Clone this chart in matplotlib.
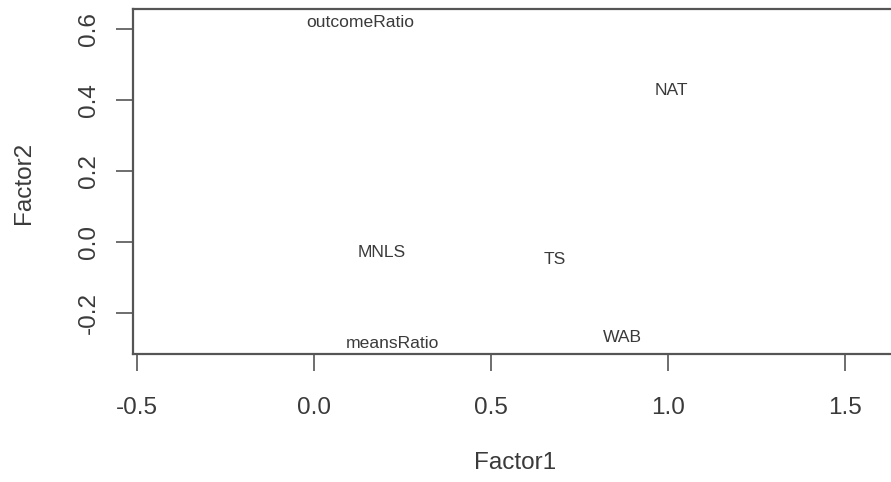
import matplotlib
matplotlib.use("Agg")
import matplotlib.pyplot as plt

# factor loadings
labels = ["outcomeRatio", "NAT", "MNLS", "TS", "meansRatio", "WAB"]
factor1 = [0.130, 1.011, 0.192, 0.681, 0.223, 0.873]
factor2 = [0.617, 0.428, -0.028, -0.048, -0.285, -0.268]

x_ticks = [-0.5, 0.0, 0.5, 1.0, 1.5]
y_ticks = [-0.2, 0.0, 0.2, 0.4, 0.6]

TEXT = "#3a3a3a"
LINE = "#555555"

plt.rcParams["font.family"] = ["Liberation Sans", "DejaVu Sans"]

W, H = 891, 482
fig = plt.figure(figsize=(W / 100, H / 100), dpi=100)
left, right, top, bottom = 133, 950, 9, 354
ax = fig.add_axes([left / W, 1 - bottom / H, (right - left) / W, (bottom - top) / H])

ax.set_xlim(-0.511, 1.797)
ax.set_ylim(-0.315, 0.656)

for name, fx, fy in zip(labels, factor1, factor2):
    ax.text(fx, fy, name, ha="center", va="center", fontsize=12.6, color=TEXT)

ax.set_xticks(x_ticks)
ax.set_xticklabels([f"{v:.1f}" for v in x_ticks])
ax.set_yticks(y_ticks)
ax.set_yticklabels([f"{v:.1f}" for v in y_ticks], rotation=90, va="center")

ax.tick_params(axis="both", direction="out", length=12, width=1.2, colors=LINE,
               labelcolor=TEXT, labelsize=17.5)
ax.tick_params(axis="x", pad=19)
ax.tick_params(axis="y", pad=12)

for side in ["left", "top", "bottom", "right"]:
    ax.spines[side].set_color(LINE)
    ax.spines[side].set_linewidth(1.6)

fig.text(515 / W, 1 - 463 / H, "Factor1", ha="center", va="center", fontsize=17.5, color=TEXT)
fig.text(24 / W, 1 - 183 / H, "Factor2", ha="center", va="center", rotation=90,
         fontsize=17.5, color=TEXT)

fig.savefig("out.png", dpi=100, facecolor="white")
